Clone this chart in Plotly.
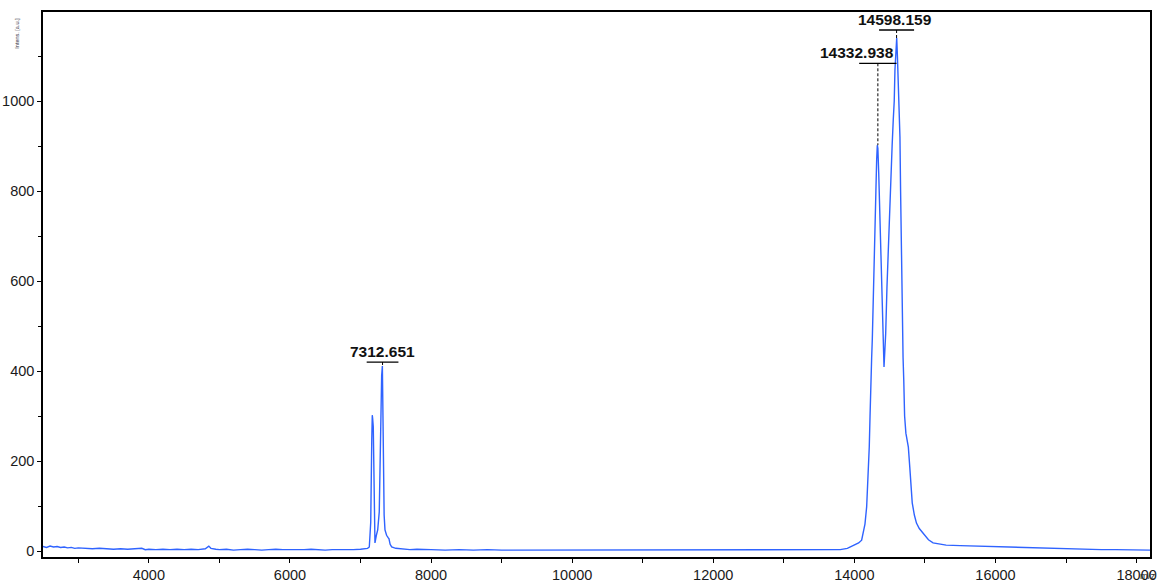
import plotly.graph_objects as go

# ---- spectrum values (m/z, intensity) ----
mz = [2500, 2550, 2600, 2650, 2700, 2750, 2800, 2850, 2900, 2950, 3000, 3100, 3200, 3300, 3400,
      3500, 3600, 3700, 3800, 3900, 3950, 4000, 4100, 4200, 4300, 4400, 4500, 4600, 4700, 4800,
      4850, 4880, 4950, 5000, 5100, 5200, 5300, 5400, 5500, 5600, 5700, 5800, 5900, 6000, 6100,
      6200, 6300, 6400, 6500, 6600, 6700, 6800, 6900, 7000, 7050, 7100,
      7125, 7145, 7160, 7167, 7172, 7181, 7192, 7205, 7225, 7244, 7266, 7280, 7288, 7300, 7310,
      7318, 7323, 7335, 7347, 7370, 7394, 7404, 7420, 7442, 7500, 7600, 7700, 7800, 7900,
      8000, 8200, 8400, 8600, 8800, 9000, 9200, 9400, 9600, 9800, 10000, 10200, 10400, 10600,
      10800, 11000, 11200, 11400, 11600, 11800, 12000, 12200, 12400, 12600, 12800, 13000, 13200,
      13400, 13600, 13700, 13800, 13900,
      14009, 14060, 14103, 14126, 14150, 14174, 14195, 14211, 14222, 14231, 14245, 14254, 14268,
      14280, 14292, 14305, 14316, 14325, 14333, 14345, 14363, 14378, 14391, 14405, 14412, 14420,
      14430, 14444, 14462, 14478, 14495, 14519, 14535, 14551, 14565, 14575, 14590, 14600, 14610,
      14620, 14635, 14646, 14655, 14665, 14675, 14690, 14700, 14712, 14730, 14750, 14765, 14785,
      14800, 14820, 14850, 14880, 14920, 14975, 15050, 15115, 15200, 15300, 15500, 15700, 15900,
      16100, 16300, 16500, 16700, 16900, 17100, 17300, 17500, 17700, 17900, 18100, 18190]
intensity = [10, 8, 11, 9, 10, 8, 9, 7, 8, 6, 7, 6, 5, 6, 5,
             4, 5, 4, 5, 6, 3, 4, 3, 4, 3, 4, 3, 4, 3, 5,
             11, 6, 4, 3, 4, 2, 3, 4, 3, 2, 3, 4, 3, 3, 2,
             3, 4, 3, 2, 3, 3, 2, 3, 4, 5, 6,
             9, 64, 250, 302, 295, 276, 120, 18, 35, 47, 87, 250, 347, 390, 411,
             300, 180, 80, 47, 35, 29, 27, 15, 9, 6, 4, 3, 4, 3,
             3, 2, 3, 2, 3, 2, 2, 3, 2, 2, 3, 2, 2, 3,
             2, 2, 3, 2, 2, 3, 2, 2, 3, 2, 2, 3, 2,
             3, 3, 3, 3, 6,
             13, 18, 24, 40, 60, 98, 160, 231, 300, 380, 430, 470, 580,
             650, 729, 800, 870, 902, 895, 840, 736, 640, 558, 484, 430, 409,
             440, 484, 587, 660, 736, 869, 900, 958, 1000, 1069, 1120, 1140, 1100,
             1040, 960, 920, 800, 650, 562, 430, 380, 300, 262, 245, 231, 187,
             150, 107, 80, 62, 50, 40, 25, 18, 15, 13, 12, 11, 10,
             9, 8, 7, 6, 5, 4, 4, 3, 3, 3, 2, 2]

# ---- labelled peaks ----
peak_mz = [7312.651, 14332.938, 14598.159]
peak_int = [411, 902, 1140]

# ---- axis ticks ----
x_tickvals = [4000, 6000, 8000, 10000, 12000, 14000, 16000, 18000]
y_tickvals = [0, 200, 400, 600, 800, 1000]

# label layout (styling, not data)
label_bar_y = [420, 1084, 1158]
label_bar_half = [225, 265, 248]
label_xshift = [0, -21, -2]

LINE_BLUE = "#2f63ff"

fig = go.Figure()
fig.add_trace(go.Scatter(x=mz, y=intensity, mode="lines",
                         line=dict(color=LINE_BLUE, width=1.4),
                         hoverinfo="skip", showlegend=False))

shapes = []
annotations = []
for m, h, by, hw, xs in zip(peak_mz, peak_int, label_bar_y, label_bar_half, label_xshift):
    shapes.append(dict(type="line", xref="x", yref="y", x0=m - hw, x1=m + hw, y0=by, y1=by,
                       line=dict(color="black", width=1.3)))
    shapes.append(dict(type="line", xref="x", yref="y", x0=m, x1=m, y0=by, y1=h,
                       line=dict(color="black", width=1, dash="3px,2px")))
    annotations.append(dict(x=m, y=by, xref="x", yref="y", text="<b>%.3f</b>" % m,
                            showarrow=False, xanchor="center", yanchor="middle",
                            xshift=xs, yshift=11,
                            font=dict(family="Liberation Sans, Arial", size=15.5, color="#111")))

annotations.append(dict(x=-0.0235, y=0.962, xref="paper", yref="paper", text="Intens. [a.u.]",
                        textangle=-90, showarrow=False, xanchor="center", yanchor="middle",
                        font=dict(family="Liberation Sans, Arial", size=5.5, color="#334")))
annotations.append(dict(x=0.998, y=-0.034, xref="paper", yref="paper", text="m/z",
                        showarrow=False, xanchor="center", yanchor="middle",
                        font=dict(family="Liberation Sans, Arial", size=9.5, color="#222")))

tickfont = dict(family="Liberation Sans, Arial", size=14.5, color="#1a1a1a")
fig.update_layout(
    width=1158, height=583,
    margin=dict(l=43, r=8, t=12, b=26, autoexpand=False),
    paper_bgcolor="white", plot_bgcolor="white",
    shapes=shapes, annotations=annotations,
    xaxis=dict(range=[2500, 18190], tickvals=x_tickvals, automargin=False,
               ticktext=[str(v) for v in x_tickvals],
               showgrid=False, zeroline=False, showline=True, mirror=True,
               linecolor="black", linewidth=1.5, ticks="outside", ticklen=4,
               tickcolor="black", tickfont=tickfont,
               minor=dict(dtick=1000, tick0=0, ticks="outside", ticklen=4, tickcolor="black",
                          showgrid=False)),
    yaxis=dict(range=[-13.3, 1198], tickvals=y_tickvals, automargin=False,
               ticktext=[str(v) for v in y_tickvals],
               showgrid=False, zeroline=False, showline=True, mirror=True,
               linecolor="black", linewidth=1.5, ticks="outside", ticklen=4,
               tickcolor="black", tickfont=tickfont,
               minor=dict(dtick=100, tick0=0, ticks="outside", ticklen=3, tickcolor="black",
                          showgrid=False)),
)

fig.write_html("out.html")
